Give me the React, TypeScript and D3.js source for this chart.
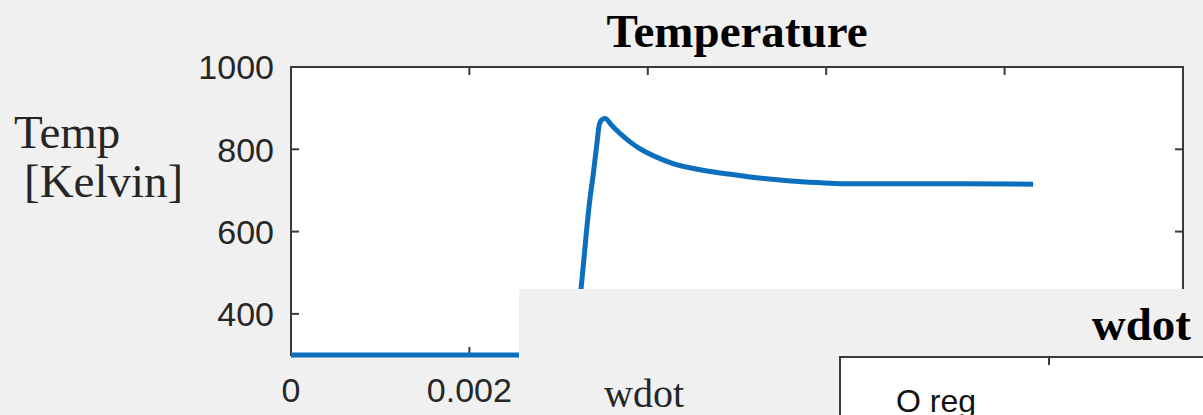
import React from "react";
import * as d3 from "d3";

// Temperature trace (time in seconds, temperature in Kelvin)
const time = [
  0, 0.00317, 0.00325, 0.00335, 0.00339, 0.00343, 0.00346, 0.0035, 0.00352,
  0.0036, 0.0037, 0.0038, 0.0039, 0.004, 0.00415, 0.0043, 0.0045, 0.0047,
  0.0049, 0.0051, 0.0053, 0.0056, 0.0059, 0.0062, 0.0068, 0.0075, 0.00832,
];
const temperature = [
  300, 300, 458, 677, 742, 815, 863, 874, 875, 857, 836, 818, 803, 791, 776,
  764, 754, 746, 740, 734, 729, 723, 719, 716, 716, 716, 715,
];

const xTicks = [0, 0.002, 0.004, 0.006, 0.008, 0.01];
const yTicks = [400, 600, 800, 1000];
const wdotTicks = [0.002, 0.004, 0.006];

const W = 1203;
const H = 415;
const BG = "#f0f0f0";
const AXIS = "#3a3a3a";
const TEXT = "#262626";
const LINE = "#0b6fbd";
const SERIF = "'Liberation Serif', 'Times New Roman', serif";
const SANS = "'Liberation Sans', Arial, Helvetica, sans-serif";

export default function App() {
  const left = 291;
  const right = 1183;
  const top = 67;
  const bottom = 355;

  const x = d3.scaleLinear().domain([0, 0.01]).range([left, right]);
  const y = d3.scaleLinear().domain([300, 1000]).range([bottom, top]);

  const line = d3
    .line<number>()
    .x((_, i) => x(time[i]))
    .y((d) => y(d))
    .curve(d3.curveMonotoneX);

  const tickLen = 8;

  // second figure window (wdot) lying over the lower right of the first one
  const panelX = 519;
  const panelY = 289;
  const wLeft = 840;
  const wTop = 357;
  const wx = d3.scaleLinear().domain([0, 0.01]).range([wLeft, wLeft + 1045]);

  // x tick labels that the wdot window does not cover
  const visibleXLabels = xTicks.filter((v) => x(v) + 45 < panelX);

  return (
    <div style={{ position: "fixed", left: 0, top: 0 }}>
      <svg width={W} height={H} style={{ display: "block" }}>
        <rect x={0} y={0} width={W} height={H} fill={BG} />

        {/* Temperature axes */}
        <rect x={left} y={top} width={right - left} height={bottom - top} fill="#ffffff" />
        <text
          x={(left + right) / 2}
          y={47}
          textAnchor="middle"
          fontFamily={SERIF}
          fontWeight="bold"
          fontSize={47}
          fill="#000"
        >
          Temperature
        </text>
        <text fontFamily={SERIF} fontSize={47} fill={TEXT}>
          <tspan x={14} y={148}>Temp</tspan>
          <tspan x={24} y={197}>[Kelvin]</tspan>
        </text>

        {yTicks.map((v) => (
          <g key={`y${v}`}>
            <line x1={left} x2={left + tickLen} y1={y(v)} y2={y(v)} stroke={AXIS} strokeWidth={2} />
            <line x1={right} x2={right - tickLen} y1={y(v)} y2={y(v)} stroke={AXIS} strokeWidth={2} />
            <text
              x={274}
              y={y(v)}
              dy="0.36em"
              textAnchor="end"
              fontFamily={SANS}
              fontSize={34}
              fill={TEXT}
            >
              {String(v)}
            </text>
          </g>
        ))}
        {xTicks.map((v) => (
          <g key={`x${v}`}>
            <line x1={x(v)} x2={x(v)} y1={top} y2={top + tickLen} stroke={AXIS} strokeWidth={2} />
            <line x1={x(v)} x2={x(v)} y1={bottom} y2={bottom - tickLen} stroke={AXIS} strokeWidth={2} />
          </g>
        ))}
        {visibleXLabels.map((v) => (
          <text
            key={`xl${v}`}
            x={x(v)}
            y={402}
            textAnchor="middle"
            fontFamily={SANS}
            fontSize={34}
            fill={TEXT}
          >
            {String(v)}
          </text>
        ))}
        <rect
          x={left}
          y={top}
          width={right - left}
          height={bottom - top}
          fill="none"
          stroke={AXIS}
          strokeWidth={2}
        />
        <path
          d={line(temperature) || ""}
          fill="none"
          stroke={LINE}
          strokeWidth={5}
          strokeLinejoin="round"
        />

        {/* wdot window */}
        <rect x={panelX} y={panelY} width={W - panelX} height={H - panelY} fill={BG} />
        <text
          x={1191}
          y={340}
          textAnchor="end"
          fontFamily={SERIF}
          fontWeight="bold"
          fontSize={47}
          fill="#000"
        >
          wdot
        </text>
        <text x={604} y={407} fontFamily={SERIF} fontSize={40} fill={TEXT}>
          wdot
        </text>
        <rect
          x={wLeft}
          y={wTop}
          width={W - wLeft + 10}
          height={H - wTop + 10}
          fill="#ffffff"
          stroke={AXIS}
          strokeWidth={2}
        />
        {wdotTicks.map((v) => (
          <line
            key={`w${v}`}
            x1={wx(v)}
            x2={wx(v)}
            y1={wTop}
            y2={wTop + tickLen}
            stroke={AXIS}
            strokeWidth={2}
          />
        ))}
        <text x={896} y={412} fontFamily={SANS} fontSize={32} fill="#111">
          O reg
        </text>
      </svg>
    </div>
  );
}
